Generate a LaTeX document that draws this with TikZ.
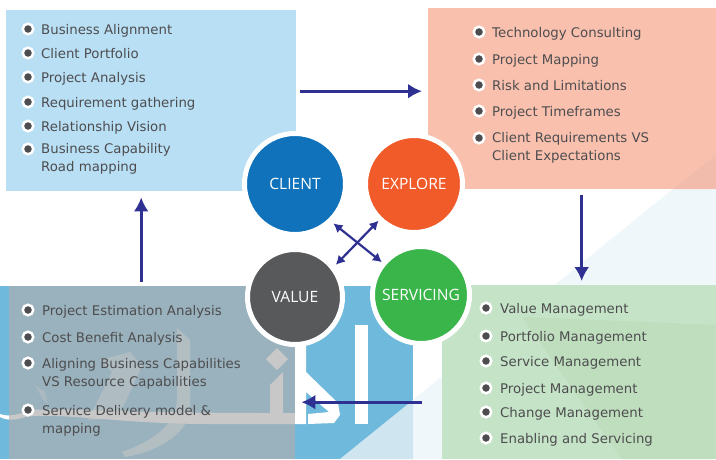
\documentclass[tikz,border=0pt]{standalone}
\usepackage{fontspec}
\setmainfont{DejaVu Sans}
\newfontfamily\stagefont{Open Sans}
\usetikzlibrary{arrows.meta}
\definecolor{clientblue}{HTML}{0F72BA}
\definecolor{exploreorange}{HTML}{F15A29}
\definecolor{servicegreen}{HTML}{39B54A}
\definecolor{valuegrey}{HTML}{58595B}
\definecolor{arrowblue}{HTML}{2E3192}
\definecolor{itemgrey}{HTML}{4D4D4F}
\definecolor{clientpale}{HTML}{B9DFF5}
\definecolor{explorepale}{HTML}{F9C0AE}
\definecolor{explorefacet}{HTML}{F1BCAC}
\definecolor{servicepale}{HTML}{C5E3C6}
\definecolor{servicefacet}{HTML}{BFDEBE}
\definecolor{valueblue}{HTML}{6FB9DC}
\definecolor{valuefacet}{HTML}{CFE6F1}
\definecolor{backfacet}{HTML}{F0F7FA}
\definecolor{overlaygrey}{HTML}{AFAFAF}
\tikzstyle{flow} = [-{Latex[length=14pt,width=15pt]},draw=arrowblue,line width=3pt]
\tikzstyle{crossflow} = [{Latex[length=9pt,width=10pt]}-{Latex[length=9pt,width=10pt]},draw=arrowblue,line width=2.2pt]
\tikzstyle{panel}=[
  rectangle,
  draw=none,
  inner sep=0pt,
  anchor=north west,
]
\tikzstyle{stage}=[
  circle,
  draw=white,
  line width=5pt,
  inner sep=0pt,
  text=white,
  font=\stagefont\fontsize{15.6}{18}\selectfont,
]
\tikzstyle{dot}=[
  circle,
  fill=itemgrey,
  draw=white,
  line width=2.5pt,
  minimum size=10.5pt,
  inner sep=0pt,
]
\tikzstyle{itemtwo}=[
  anchor=west,
  inner sep=0pt,
  align=left,
  text=itemgrey,
  yshift=-1pt,
  font=\fontsize{13.3}{18}\selectfont,
]
\tikzstyle{item}=[
  itemtwo,
  text height=10pt,
  text depth=3pt,
  yshift=-0.5pt,
]
\begin{document}
\begin{tikzpicture}[x=1pt,y=-1pt]
  \useasboundingbox (0,0) rectangle (716,459);
  % backdrop facets
  \fill[white] (0,0) rectangle (716,459);
  \fill[backfacet] (673,189) -- (716,189) -- (716,459) -- (340,459) -- cycle;

  \node[panel,fill=clientpale,minimum width=290pt,minimum height=181pt] (clientbox) at (6,10) {};
  \node[panel,fill=explorepale,minimum width=288pt,minimum height=181pt] (explorebox) at (428,8) {};
  \fill[explorefacet] (716,155) -- (673,189) -- (716,189) -- cycle;
  \node[panel,fill=servicepale,minimum width=274pt,minimum height=174pt] (servicebox) at (442,285) {};
  \fill[servicefacet] (522,317) -- (716,325) -- (716,459) -- (622,459) -- cycle;
  \node[panel,fill=valueblue,minimum width=413pt,minimum height=173pt] (bluebox) at (0,286) {};
  \fill[valuefacet] (413,400) -- (413,459) -- (340,459) -- cycle;

  % watermark
  \fill[white] (355,325) rectangle (368,424);
  \fill[white] (295,346) -- (306,346) -- (306,372) -- (338,403) -- (340,415) -- (334,423) -- (308,424) -- (308,414) -- (329,412) -- (306,392) -- (306,424) -- (295,424) -- cycle;
  \fill[white] (277,348) -- (288,359) -- (277,370) -- (266,359) -- cycle;
  \fill[white] (270,385) -- (283,372) -- (283,413) -- (295,413) -- (295,424) -- (210,424) .. controls (120,424) and (60,412) .. (25,417) .. controls (15,421) and (5,420) .. (0,417) -- (0,414) .. controls (8,417) and (18,415) .. (30,410) .. controls (70,408) and (120,413) .. (270,413) -- cycle;
  \fill[white,opacity=0.55] (177,328) -- (190,340) -- (190,410) .. controls (188,430) and (165,450) .. (125,457) -- (122,452) .. controls (155,440) and (175,425) .. (177,400) -- cycle;
  \fill[white,opacity=0.45] (100,360) -- (130,352) -- (142,366) -- (118,418) -- (88,420) -- (112,372) -- cycle;
  \fill[white,opacity=0.35] (35,385) -- (45,392) -- (48,405) -- (42,398) -- cycle;

  \node[panel,fill=overlaygrey,fill opacity=0.68,minimum width=286pt,minimum height=173pt] (valuebox) at (9,286) {};

  % stages
  \node[stage,fill=clientblue,minimum size=101pt] (client) at (295,184) {CLIENT};
  \node[stage,fill=exploreorange,minimum size=97pt] (explore) at (414,184) {EXPLORE};
  \node[stage,fill=servicegreen,minimum size=97pt] (servicing) at (421,295) {SERVICING};
  \node[stage,fill=valuegrey,minimum size=95pt] (value) at (295,297) {VALUE};

  \draw[flow,shorten <=4pt,shorten >=6pt] ([yshift=9.5pt] clientbox.east) -- ([yshift=7.5pt] explorebox.west);
  \draw[flow,shorten <=6pt,shorten >=4pt] ([xshift=9.5pt] explorebox.south) -- ([xshift=2.5pt] servicebox.north);
  \draw[flow,shorten <=20pt,shorten >=6pt] ([yshift=-30pt] servicebox.west) -- ([yshift=-29.5pt] valuebox.east);
  \draw[flow,shorten <=4pt,shorten >=6pt] ([xshift=-11pt] valuebox.north) -- ([xshift=-10pt] clientbox.south);
  \draw[crossflow,shorten <=2pt] (client.-46) -- (servicing.140);
  \draw[crossflow,shorten <=2pt] (value.38) -- (explore.-134);

  % client items
  \node[dot] (c1) at (28,29) {};
  \node[dot] (c2) at (28,53) {};
  \node[dot] (c3) at (28,77) {};
  \node[dot] (c4) at (28,102) {};
  \node[dot] (c5) at (28,126) {};
  \node[dot] (c6) at (28,149) {};
  \node[item] (ct1) at ([xshift=13pt] c1.center) {Business Alignment};
  \node[item] (ct2) at ([xshift=13pt] c2.center) {Client Portfolio};
  \node[item] (ct3) at ([xshift=13pt] c3.center) {Project Analysis};
  \node[item] (ct4) at ([xshift=13pt] c4.center) {Requirement gathering};
  \node[item] (ct5) at ([xshift=13pt] c5.center) {Relationship Vision};
  \node[itemtwo] (ct6) at ([xshift=13pt,yshift=-9pt] c6.center) {Business Capability\\Road mapping};

  % explore items
  \node[dot] (e1) at (479,32) {};
  \node[dot] (e2) at (479,59) {};
  \node[dot] (e3) at (479,85) {};
  \node[dot] (e4) at (479,111) {};
  \node[dot] (e5) at (479,138) {};
  \node[item] (et1) at ([xshift=13pt] e1.center) {Technology Consulting};
  \node[item] (et2) at ([xshift=13pt] e2.center) {Project Mapping};
  \node[item] (et3) at ([xshift=13pt] e3.center) {Risk and Limitations};
  \node[item] (et4) at ([xshift=13pt] e4.center) {Project Timeframes};
  \node[itemtwo] (et5) at ([xshift=13pt,yshift=-9pt] e5.center) {Client Requirements VS\\Client Expectations};

  % servicing items
  \node[dot] (s1) at (486,308) {};
  \node[dot] (s2) at (486,336) {};
  \node[dot] (s3) at (486,361) {};
  \node[dot] (s4) at (486,388) {};
  \node[dot] (s5) at (486,412) {};
  \node[dot] (s6) at (486,438) {};
  \node[item] (st1) at ([xshift=14pt] s1.center) {Value Management};
  \node[item] (st2) at ([xshift=14pt] s2.center) {Portfolio Management};
  \node[item] (st3) at ([xshift=14pt] s3.center) {Service Management};
  \node[item] (st4) at ([xshift=14pt] s4.center) {Project Management};
  \node[item] (st5) at ([xshift=14pt] s5.center) {Change Management};
  \node[item] (st6) at ([xshift=14pt] s6.center) {Enabling and Servicing};

  % value items
  \node[dot] (v1) at (28,310) {};
  \node[dot] (v2) at (28,337) {};
  \node[dot] (v3) at (28,363) {};
  \node[dot] (v4) at (28,410) {};
  \node[item] (vt1) at ([xshift=14pt] v1.center) {Project Estimation Analysis};
  \node[item] (vt2) at ([xshift=14pt] v2.center) {Cost Benefit Analysis};
  \node[itemtwo] (vt3) at ([xshift=14pt,yshift=-10pt] v3.center) {Aligning Business Capabilities\\VS Resource Capabilities};
  \node[itemtwo] (vt4) at ([xshift=14pt,yshift=-10pt] v4.center) {Service Delivery model \&\\mapping};
\end{tikzpicture}
\end{document}
